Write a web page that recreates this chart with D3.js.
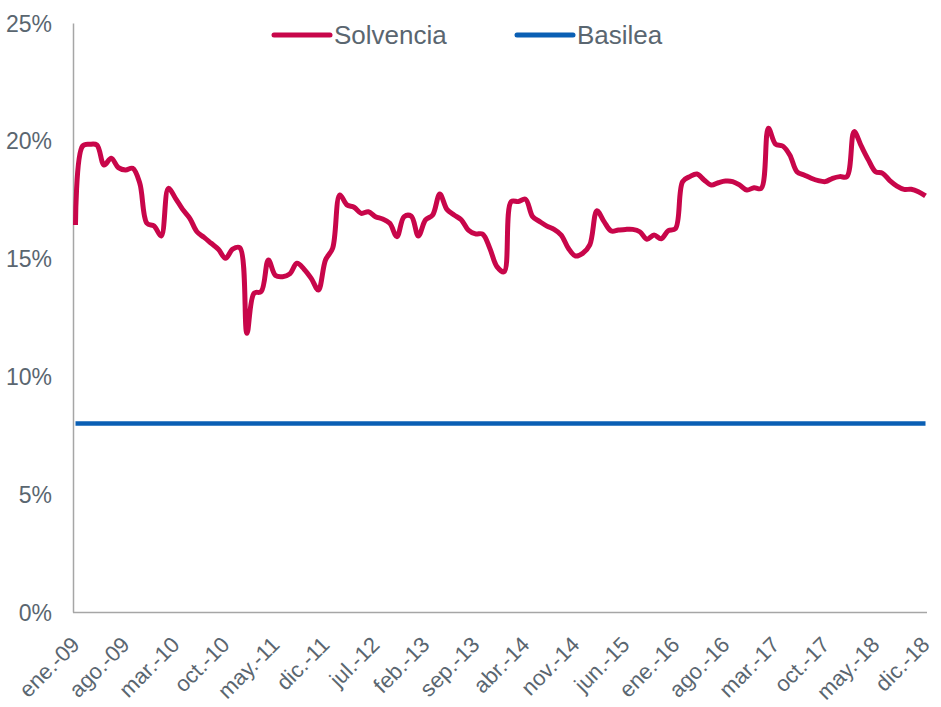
<!DOCTYPE html>
<html>
<head>
<meta charset="utf-8">
<script src="https://cdn.jsdelivr.net/npm/d3@7"></script>
<style>
  body { margin: 0; background: #fff; }
  text { font-family: "Liberation Sans", Arial, sans-serif; fill: #5a6670; }
</style>
</head>
<body>
<div id="chart"></div>
<script>
var svgWidth = 941;
var svgHeight = 707;

// monthly series, ene-09 .. dic-18
var monthNames = ["ene.", "feb.", "mar.", "abr.", "may.", "jun.", "jul.", "ago.", "sep.", "oct.", "nov.", "dic."];
var years = ["09", "10", "11", "12", "13", "14", "15", "16", "17", "18"];

var solvencia = [
  16.43, 19.78, 19.85, 19.82, 18.97, 19.26, 18.86, 18.76, 18.83, 18.2, 16.5, 16.38,
  15.96, 17.98, 17.56, 17.09, 16.71, 16.14, 15.9, 15.65, 15.4, 15.01, 15.4, 15.46,
  11.83, 13.53, 13.6, 14.94, 14.28, 14.23, 14.35, 14.8, 14.55, 14.16, 13.67, 14.94,
  15.44, 17.7, 17.28, 17.18, 16.92, 16.99, 16.78, 16.68, 16.5, 15.93, 16.78, 16.8,
  15.96, 16.64, 16.85, 17.74, 17.09, 16.85, 16.65, 16.21, 16.05, 16.04, 15.44, 14.66,
  14.44, 17.42, 17.42, 17.52, 16.78, 16.57, 16.38, 16.24, 16.0, 15.44, 15.11, 15.22,
  15.58, 17.03, 16.57, 16.17, 16.21, 16.24, 16.24, 16.14, 15.82, 16.0, 15.84, 16.19,
  16.27, 18.27, 18.48, 18.59, 18.34, 18.12, 18.22, 18.29, 18.27, 18.12, 17.91, 18.01,
  17.98, 20.53, 19.86, 19.78, 19.4, 18.69, 18.55, 18.41, 18.31, 18.27, 18.41, 18.48,
  18.48, 20.39, 19.78, 19.19, 18.69, 18.62, 18.31, 18.08, 17.94, 17.94, 17.84, 17.66
];

var basilea = [
  8, 8, 8, 8, 8, 8, 8, 8, 8, 8, 8, 8,
  8, 8, 8, 8, 8, 8, 8, 8, 8, 8, 8, 8,
  8, 8, 8, 8, 8, 8, 8, 8, 8, 8, 8, 8,
  8, 8, 8, 8, 8, 8, 8, 8, 8, 8, 8, 8,
  8, 8, 8, 8, 8, 8, 8, 8, 8, 8, 8, 8,
  8, 8, 8, 8, 8, 8, 8, 8, 8, 8, 8, 8,
  8, 8, 8, 8, 8, 8, 8, 8, 8, 8, 8, 8,
  8, 8, 8, 8, 8, 8, 8, 8, 8, 8, 8, 8,
  8, 8, 8, 8, 8, 8, 8, 8, 8, 8, 8, 8,
  8, 8, 8, 8, 8, 8, 8, 8, 8, 8, 8, 8
];

var yTicks = [0, 5, 10, 15, 20, 25];
var xTickLabels = ["ene.-09", "ago.-09", "mar.-10", "oct.-10", "may.-11", "dic.-11", "jul.-12", "feb.-13", "sep.-13",
                   "abr.-14", "nov.-14", "jun.-15", "ene.-16", "ago.-16", "mar.-17", "oct.-17", "may.-18", "dic.-18"];

var seriesNames = ["Solvencia", "Basilea"];
var colors = ["#c8064a", "#0a5fb4"];

// category labels for every month
var categories = [];
years.forEach(function(y) {
  monthNames.forEach(function(m) { categories.push(m + "-" + y); });
});

var svg = d3.select("#chart")
  .append("svg")
  .attr("width", svgWidth)
  .attr("height", svgHeight);

var xScale = d3.scalePoint()
  .domain(categories)
  .range([75.5, 925.5]);

var yScale = d3.scaleLinear()
  .domain([0, 25])
  .range([612, 23]);

// y axis
var yAxis = d3.axisLeft(yScale)
  .tickValues(yTicks)
  .tickSize(0)
  .tickPadding(21)
  .tickFormat(function(d) { return d + "%"; });

var gy = svg.append("g")
  .attr("transform", "translate(73,0)")
  .call(yAxis);
gy.select(".domain").attr("stroke", "#a6a6a6").attr("stroke-width", 1.5);
gy.selectAll("text").style("font-size", "23px").attr("dy", "0.35em");

// x axis
var xAxis = d3.axisBottom(xScale)
  .tickValues(xTickLabels)
  .tickSize(0)
  .tickFormat(function(d) { return d; });

var gx = svg.append("g")
  .attr("transform", "translate(0,612)")
  .call(xAxis);
gx.select(".domain").attr("d", "M73,0.5H927").attr("stroke", "#a6a6a6").attr("stroke-width", 1.5);
gx.selectAll("text")
  .style("font-size", "22px")
  .attr("text-anchor", "end")
  .attr("y", 0)
  .attr("dy", 0)
  .attr("transform", "translate(5,34) rotate(-45)");

// lines
var line = d3.line()
  .x(function(d, i) { return xScale(categories[i]); })
  .y(function(d) { return yScale(d); })
  .curve(d3.curveCatmullRom.alpha(0.5));

svg.append("path")
  .datum(basilea)
  .attr("fill", "none")
  .attr("stroke", colors[1])
  .attr("stroke-width", 4.5)
  .attr("d", line);

svg.append("path")
  .datum(solvencia)
  .attr("fill", "none")
  .attr("stroke", colors[0])
  .attr("stroke-width", 5)
  .attr("stroke-linejoin", "round")
  .attr("d", line);

// legend
var legendX = [274, 517];
var legend = svg.append("g");
seriesNames.forEach(function(name, i) {
  legend.append("line")
    .attr("x1", legendX[i]).attr("x2", legendX[i] + 56)
    .attr("y1", 35).attr("y2", 35)
    .attr("stroke", colors[i])
    .attr("stroke-width", 5)
    .attr("stroke-linecap", "round");
  legend.append("text")
    .attr("x", legendX[i] + 60)
    .attr("y", 44)
    .style("font-size", "26px")
    .text(name);
});
</script>
</body>
</html>
